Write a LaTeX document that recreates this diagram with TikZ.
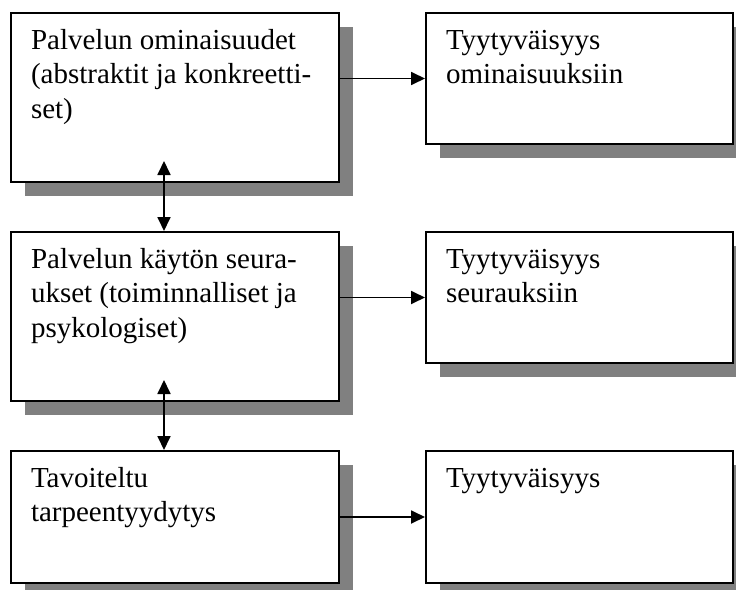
\documentclass[tikz,border=0pt]{standalone}
\usepackage{fontspec}
\setmainfont{Liberation Serif}
\usetikzlibrary{arrows.meta,shadows,positioning}
\definecolor{shadowgray}{HTML}{808080}
\tikzset{>={Triangle[length=14pt,width=13pt]}}
\newcommand{\boxtext}[3]{\parbox[c][#1][t]{#2}{\raggedright\rule{0pt}{36pt}#3}}

\begin{document}
\begin{tikzpicture}[x=1pt,y=-1pt,
  box/.style={draw, line width=2pt, fill=white, anchor=north west,
    inner xsep=20pt, inner ysep=0pt,
    drop shadow={shadow xshift=14pt, shadow yshift=-14pt, fill=shadowgray, opacity=1},
    font=\fontsize{29}{34.5}\selectfont},
  conn/.style={line width=1.8pt}]
\useasboundingbox (0,0) rectangle (736,589);
\clip (0,0) rectangle (736,589);
% left column
\node[box] (ominaisuudet) at (10,12) {\boxtext{169pt}{288pt}{Palvelun ominaisuudet\\(abstraktit ja konkreetti-\\set)}};
\node[box] (seuraukset) at (10,231) {\boxtext{169pt}{288pt}{Palvelun käytön seura-\\ukset (toiminnalliset ja\\psykologiset)}};
\node[box] (tarve) at (10,450) {\boxtext{132pt}{288pt}{Tavoiteltu\\tarpeentyydytys}};
% right column
\node[box] (tyyOm) at (425,12) {\boxtext{131pt}{267pt}{Tyytyväisyys\\ominaisuuksiin}};
\node[box] (tyySe) at (425,231) {\boxtext{131pt}{267pt}{Tyytyväisyys\\seurauksiin}};
\node[box] (tyy) at (425,450) {\boxtext{132pt}{267pt}{Tyytyväisyys}};
% connectors
\draw[conn,->] (ominaisuudet.east |- tyyOm.west) -- (tyyOm.west);
\draw[conn,->] (seuraukset.east |- tyySe.west) -- (tyySe.west);
\draw[conn,->] (tarve.east |- tyy.west) -- (tyy.west);
\draw[conn,<->] ([xshift=-11pt,yshift=22pt]ominaisuudet.south) -- ([xshift=-11pt]seuraukset.north);
\draw[conn,<->] ([xshift=-11pt,yshift=22pt]seuraukset.south) -- ([xshift=-11pt]tarve.north);
\end{tikzpicture}
\end{document}
